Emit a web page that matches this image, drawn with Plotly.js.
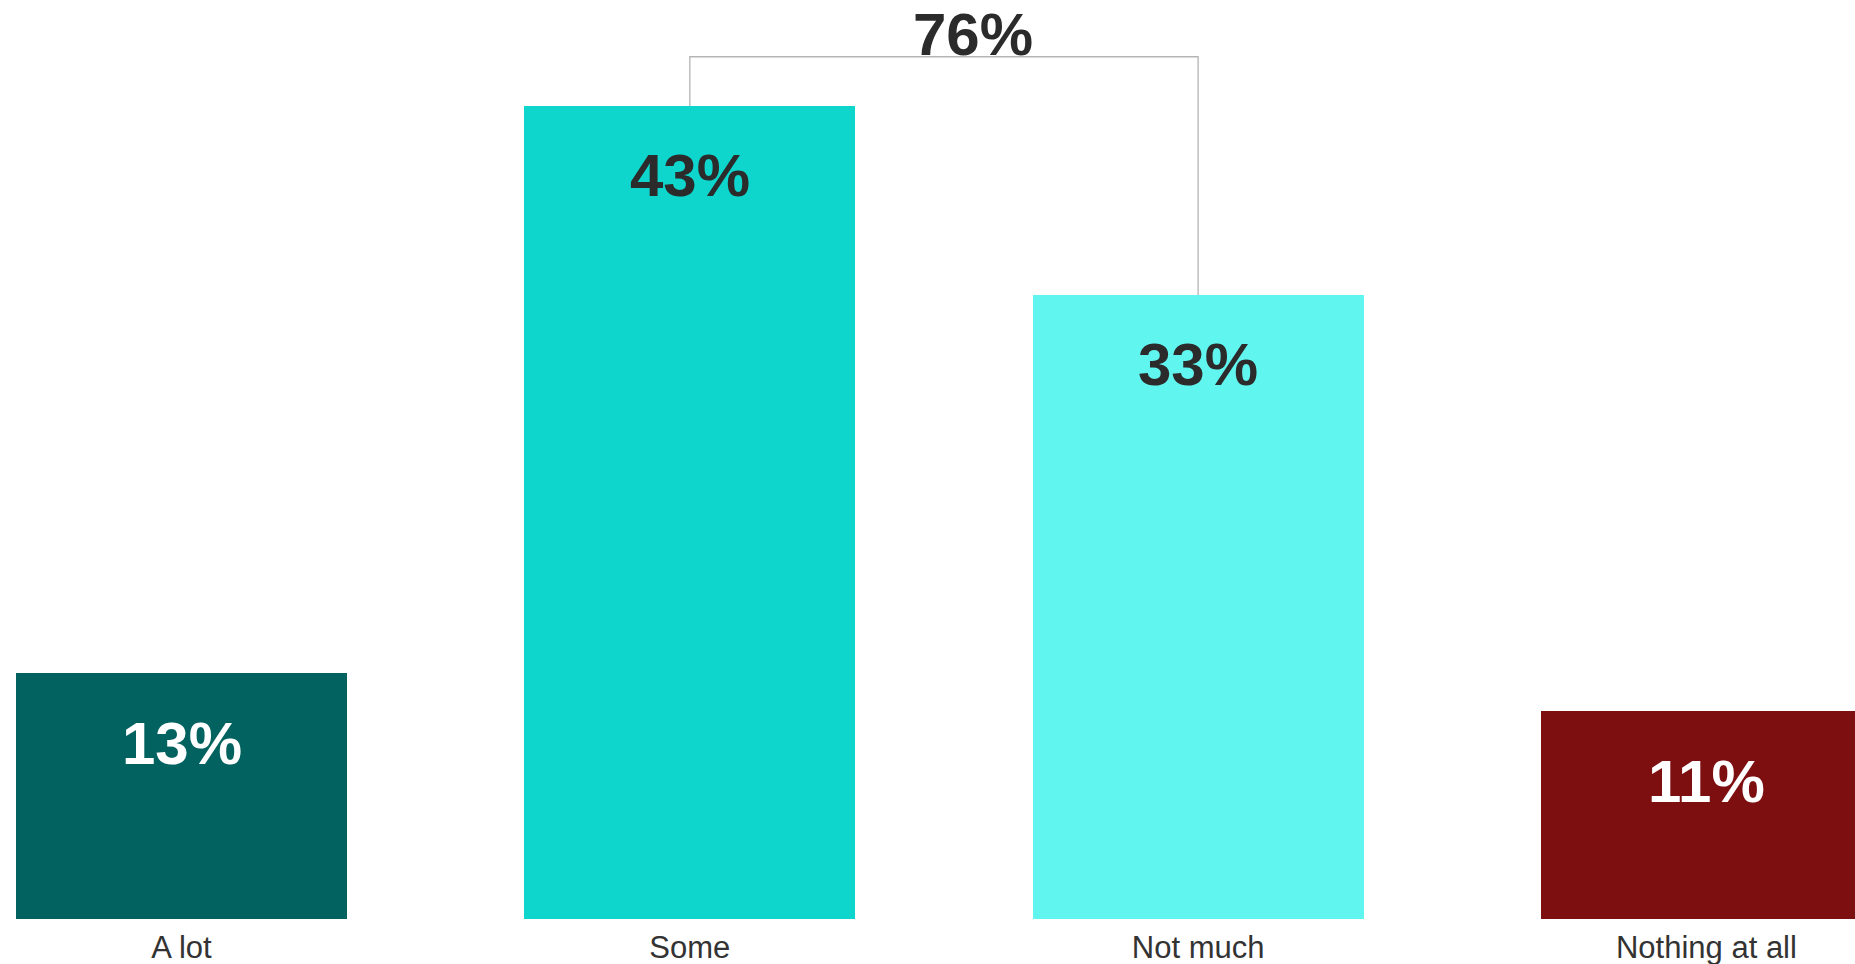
<!DOCTYPE html>
<html>
<head>
<meta charset="utf-8">
<script src="https://cdn.plot.ly/plotly-3.0.1.min.js"></script>
<style>
  html, body { margin: 0; padding: 0; background: #ffffff; }
  #chart { width: 1855px; height: 964px; }
</style>
</head>
<body>
<div id="chart"></div>
<script>
// ---- Data ----
const categories = ["A lot", "Some", "Not much", "Nothing at all"];
const values = [13, 43, 33, 11];
const barColors = ["#026260", "#0ed6cc", "#61f5ef", "#7e0f11"];
const labelColors = ["#ffffff", "#2b2b2b", "#2b2b2b", "#ffffff"];
const bracketPair = [1, 2];          // indices combined by the bracket
const bracketLevel = 45.6;           // height of the bracket line (in %)

// ---- Build ----
const FONT = "'Liberation Sans', Arial, Helvetica, sans-serif";
const xIdx = categories.map((_, i) => i);

const barTrace = {
  type: "bar",
  x: xIdx,
  y: values,
  width: 0.651,
  marker: { color: barColors, line: { width: 0 } },
  hoverinfo: "skip",
  showlegend: false
};

const a = bracketPair[0], b = bracketPair[1];
const bracketTrace = {
  type: "scatter",
  mode: "lines",
  x: [xIdx[a], xIdx[a], xIdx[b], xIdx[b]],
  y: [values[a], bracketLevel, bracketLevel, values[b]],
  line: { color: "#b5b5b5", width: 1.3 },
  hoverinfo: "skip",
  showlegend: false,
  cliponaxis: false
};

const annotations = values.map((v, i) => ({
  x: xIdx[i],
  y: v,
  xref: "x",
  yref: "y",
  text: v + "%",
  showarrow: false,
  yanchor: "middle",
  xanchor: "center",
  yshift: -70,
  font: { family: FONT, size: 60, color: labelColors[i], weight: "bold" }
}));

const total = values[a] + values[b];
annotations.push({
  x: (xIdx[a] + xIdx[b]) / 2,
  y: bracketLevel,
  xref: "x",
  yref: "y",
  text: total + "%",
  showarrow: false,
  yanchor: "middle",
  xanchor: "center",
  xshift: 29,
  yshift: 22,
  font: { family: FONT, size: 60, color: "#2b2b2b", weight: "bold" }
});

const layout = {
  width: 1855,
  height: 964,
  margin: { l: 0, r: 0, t: 0, b: 45, pad: 0 },
  paper_bgcolor: "#ffffff",
  plot_bgcolor: "#ffffff",
  font: { family: FONT, color: "#333333" },
  bargap: 0,
  xaxis: {
    range: [-0.3571, 3.2923],
    tickmode: "array",
    tickvals: xIdx,
    ticktext: categories,
    tickfont: { family: FONT, size: 31, color: "#333333" },
    ticks: "",
    ticklabelstandoff: 7,
    showgrid: false,
    zeroline: false,
    showline: false,
    fixedrange: true
  },
  yaxis: {
    range: [0, 48.6],
    visible: false,
    showgrid: false,
    zeroline: false,
    fixedrange: true
  },
  annotations: annotations,
  showlegend: false
};

Plotly.newPlot("chart", [barTrace, bracketTrace], layout, { displayModeBar: false, staticPlot: true });
</script>
</body>
</html>
